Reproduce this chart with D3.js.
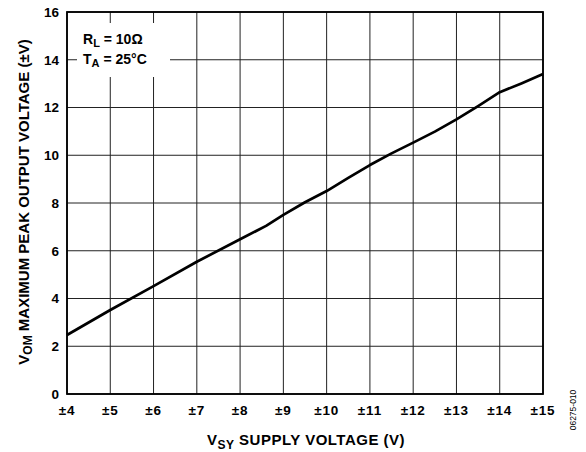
<!DOCTYPE html>
<html>
<head>
<meta charset="utf-8">
<script src="https://cdn.jsdelivr.net/npm/d3@7"></script>
<style>
  body { margin: 0; background: #fff; }
  text { font-family: Arial, "Liberation Sans", sans-serif; font-weight: bold; fill: #000; }
</style>
</head>
<body>
<svg id="chart" width="586" height="452"></svg>
<script>
// supply voltage (±V) and peak output voltage (±V)
const supplyV = [4, 5, 6, 7, 8, 8.6, 9, 9.5, 10, 10.5, 11, 11.5, 12, 12.5, 13, 13.5, 14, 14.5, 15];
const outputV = [2.47, 3.52, 4.52, 5.54, 6.48, 7.04, 7.5, 8.03, 8.5, 9.05, 9.59, 10.08, 10.53, 10.99, 11.5, 12.06, 12.64, 13.01, 13.4];
const xTicks = [4, 5, 6, 7, 8, 9, 10, 11, 12, 13, 14, 15];
const yTicks = [0, 2, 4, 6, 8, 10, 12, 14, 16];

const margin = { left: 67, top: 12, right: 543, bottom: 394 };

const svg = d3.select('#chart');

const x = d3.scaleLinear().domain([4, 15]).range([margin.left, margin.right]);
const y = d3.scaleLinear().domain([0, 16]).range([margin.bottom, margin.top]);

// grid
svg.append('g')
    .selectAll('line')
    .data(xTicks)
    .enter()
    .append('line')
    .attr('x1', d => x(d)).attr('x2', d => x(d))
    .attr('y1', margin.top).attr('y2', margin.bottom)
    .attr('stroke', '#222')
    .attr('stroke-width', 1);

svg.append('g')
    .selectAll('line')
    .data(yTicks)
    .enter()
    .append('line')
    .attr('x1', margin.left).attr('x2', margin.right)
    .attr('y1', d => y(d)).attr('y2', d => y(d))
    .attr('stroke', '#222')
    .attr('stroke-width', 1);

// white box behind the conditions
svg.append('rect')
    .attr('x', 77).attr('y', 23)
    .attr('width', 93).attr('height', 54)
    .attr('fill', '#fff');

// frame
svg.append('rect')
    .attr('x', margin.left).attr('y', margin.top)
    .attr('width', margin.right - margin.left)
    .attr('height', margin.bottom - margin.top)
    .attr('fill', 'none')
    .attr('stroke', '#000')
    .attr('stroke-width', 1.8);

// curve
const line = d3.line()
    .x((d, i) => x(supplyV[i]))
    .y(d => y(d));

svg.append('path')
    .datum(outputV)
    .attr('d', line)
    .attr('fill', 'none')
    .attr('stroke', '#000')
    .attr('stroke-width', 2.7)
    .attr('stroke-linejoin', 'round');

// tick labels
svg.append('g')
    .selectAll('text')
    .data(yTicks)
    .enter()
    .append('text')
    .attr('x', 59)
    .attr('y', d => y(d) + 4.8)
    .attr('text-anchor', 'end')
    .attr('font-size', 13.5)
    .text(d => d);

svg.append('g')
    .selectAll('text')
    .data(xTicks)
    .enter()
    .append('text')
    .attr('x', d => x(d))
    .attr('y', 414.5)
    .attr('text-anchor', 'middle')
    .attr('font-size', 13.5)
    .attr('letter-spacing', 0.8)
    .text(d => '±' + d);

// conditions
let t1 = svg.append('text').attr('x', 83).attr('y', 44).attr('font-size', 14);
t1.append('tspan').text('R');
t1.append('tspan').attr('dy', 3).attr('font-size', 11).text('L');
t1.append('tspan').attr('dy', -3).text(' = 10Ω');

let t2 = svg.append('text').attr('x', 83).attr('y', 64).attr('font-size', 14);
t2.append('tspan').text('T');
t2.append('tspan').attr('dy', 3).attr('font-size', 11).text('A');
t2.append('tspan').attr('dy', -3).text(' = 25°C');

// axis titles
let xt = svg.append('text')
    .attr('x', 306).attr('y', 445)
    .attr('text-anchor', 'middle')
    .attr('font-size', 15)
    .attr('letter-spacing', 0.5);
xt.append('tspan').text('V');
xt.append('tspan').attr('dy', 3.5).attr('font-size', 12).text('SY');
xt.append('tspan').attr('dy', -3.5).text(' SUPPLY VOLTAGE (V)');

let yt = svg.append('text')
    .attr('transform', 'translate(28.5 202) rotate(-90)')
    .attr('text-anchor', 'middle')
    .attr('font-size', 15);
yt.append('tspan').text('V');
yt.append('tspan').attr('dy', 3.5).attr('font-size', 12).text('OM');
yt.append('tspan').attr('dy', -3.5).text(' MAXIMUM PEAK OUTPUT VOLTAGE (±V)');

svg.append('text')
    .attr('transform', 'translate(576 410) rotate(-90)')
    .attr('text-anchor', 'middle')
    .attr('font-size', 8.5)
    .style('font-weight', 'normal')
    .text('06275-010');
</script>
</body>
</html>
